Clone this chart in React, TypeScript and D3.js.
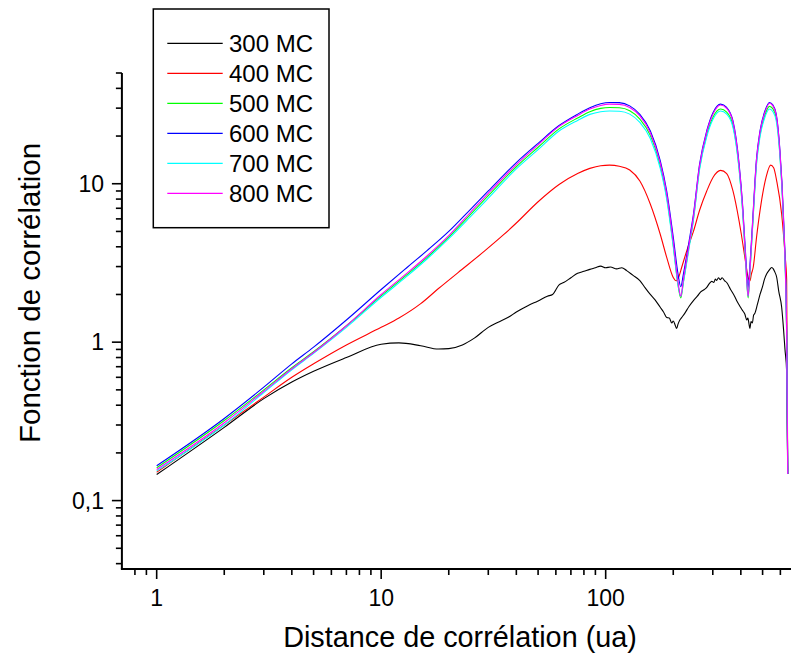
import React from "react";
import * as d3 from "d3";

// ---------- DATA ----------
const seriesNames = ["300 MC", "400 MC", "500 MC", "600 MC", "700 MC", "800 MC"];
const seriesColors = ["#000000", "#ff0000", "#00ff00", "#0000ff", "#00ffff", "#ff00ff"];

const dist300 = [1,2,3,4,5,7,10,12,15,18,20,23,26,30,33,37,40,45,50,55,58,62,65,70,75,80,85,90,95,100,105,112,118,124,132,142,150,158,166,175,181,187,192,197,200,204,207,210,214,218,225,235,246,256,265,275,282,290,297,303,308,312,318,324,330,338,346,360,375,383,395,405,417,425,430,435,439,444,450,456,462,475,487,500,510,521,535,549,558,565,578,590,608,620,629,640,647];
const val300 = [0.146,0.29,0.44,0.56,0.655,0.80,0.97,0.99,0.95,0.905,0.91,0.96,1.06,1.24,1.33,1.44,1.55,1.70,1.82,1.95,2.0,2.3,2.38,2.55,2.72,2.8,2.88,2.95,3.02,2.95,2.98,2.9,2.95,2.83,2.65,2.45,2.2,2.0,1.85,1.66,1.55,1.43,1.42,1.32,1.36,1.28,1.22,1.30,1.38,1.43,1.52,1.68,1.83,1.95,2.08,2.15,2.22,2.35,2.42,2.38,2.5,2.45,2.55,2.48,2.55,2.45,2.38,2.15,1.95,1.83,1.7,1.6,1.5,1.38,1.42,1.3,1.22,1.35,1.32,1.48,1.52,1.75,2.0,2.25,2.5,2.69,2.85,2.96,2.9,2.8,2.56,2.1,1.66,1.2,0.9,0.65,0.147];

const dist400 = [1,2,3,4,5,7,10,12,15,18,22,29,35,40,50,62,75,85,95,104,115,128,142,158,175,187,200,206,212,218,230,246,262,282,301,325,346,369,393,402,420,431,439,446,454,470,487,518,543,560,578,608,630,640,647];
const val400 = [0.151,0.30,0.45,0.60,0.73,0.96,1.24,1.42,1.75,2.18,2.75,3.78,4.75,5.65,7.7,9.9,11.6,12.5,13.0,13.1,12.9,12.2,10.4,7.45,4.8,3.43,2.56,2.44,2.6,2.96,3.8,5.0,6.8,9.0,11.0,12.15,11.6,9.0,5.8,4.8,3.2,2.56,2.44,2.7,2.96,4.6,6.76,10.97,13.1,12.6,10.4,6.43,3.5,2.5,0.147];

const distHigh = [1,2,3,4,5,7,10,13,16,20,25,30,40,50,62,75,85,95,104,115,128,142,158,175,187,200,210,216,222,235,246,262,282,301,325,346,369,393,408,420,431,440,452,470,487,512,537,555,575,596,619,640,647];
const val500 = [0.161,0.32,0.50,0.69,0.87,1.27,1.96,2.66,3.42,4.6,6.4,8.4,12.8,17.0,22.2,26.0,28.5,29.9,30.3,30.2,28.9,25.6,20.2,13.0,8.3,4.1,2.3,1.9,2.4,4.0,6.0,12.6,20.4,26.4,29.6,28.3,23.3,12.5,6.6,3.3,1.9,2.9,5.6,13.7,20.4,27.1,30.8,29.8,26.0,16.0,6.0,1.1,0.147];
const val600 = [0.166,0.33,0.52,0.73,0.93,1.38,2.15,2.95,3.78,5.0,6.9,9.0,13.6,18.0,23.3,27.5,30.2,32.0,32.6,32.5,31.0,27.4,21.6,14.0,9.0,4.6,2.7,2.24,2.7,4.3,6.4,13.3,21.6,28.2,31.8,30.3,24.9,13.3,7.1,3.6,2.22,3.2,6.0,14.5,21.6,28.8,32.6,31.5,27.5,16.9,6.4,1.2,0.147];
const val700 = [0.154,0.30,0.48,0.67,0.85,1.24,1.92,2.6,3.35,4.5,6.2,8.1,12.4,16.4,21.5,25.1,27.4,28.5,28.8,28.7,27.5,24.4,19.3,12.5,8.0,4.0,2.3,1.95,2.4,3.9,5.9,12.3,19.8,25.6,28.8,27.5,22.7,12.2,6.5,3.3,1.95,2.9,5.5,13.3,19.8,26.3,29.6,28.6,25.0,15.5,5.9,1.1,0.147];
const val800 = [0.157,0.31,0.49,0.68,0.86,1.27,2.0,2.72,3.5,4.7,6.6,8.7,13.2,17.6,23.0,27.0,29.6,31.2,31.8,31.7,30.3,26.8,21.0,13.5,8.6,4.3,2.4,1.95,2.5,4.1,6.2,13.0,21.2,27.6,31.4,29.9,24.5,13.0,6.9,3.4,1.95,3.0,5.8,14.2,21.2,28.2,32.2,31.1,27.1,16.6,6.2,1.15,0.147];

const seriesDist = [dist300, dist400, distHigh, distHigh, distHigh, distHigh];
const seriesVals = [val300, val400, val500, val600, val700, val800];

const xMajor = [1, 10, 100];
const xMajorLabels = ["1", "10", "100"];
const xMinor = [0.8,0.9,2,3,4,5,6,7,8,9,20,30,40,50,60,70,80,90,200,300,400,500,600,700];
const yMajor = [0.1, 1, 10];
const yMajorLabels = ["0,1", "1", "10"];
const yMinor = [0.04,0.05,0.06,0.07,0.08,0.09,0.2,0.3,0.4,0.5,0.6,0.7,0.8,0.9,2,3,4,5,6,7,8,9,20,30,40,50];

const xTitle = "Distance de corrélation (ua)";
const yTitle = "Fonction de corrélation";

// ---------- CHART ----------
const W = 791, H = 660;
const left = 121.9, bottom = 569, top = 73;
const FONT = "'Liberation Sans', Arial, sans-serif";

export default function App() {
  const x = d3.scaleLog().domain([0.7, 700]).range([left, left + 3 * 224.5]);
  const y = d3.scaleLog().domain([0.037, 50]).range([bottom, top]);
  const line = d3.line<[number, number]>()
    .x(d => x(d[0]))
    .y(d => y(d[1]))
    .curve(d3.curveMonotoneX);

  return (
    <div style={{ position: "absolute", left: 0, top: 0 }}>
      <svg width={W} height={H} style={{ display: "block", background: "#fff" }}>
        <rect x={0} y={0} width={W} height={H} fill="#fff" />
        {seriesVals.map((vals, i) => {
          const pts = vals.map((v, j) => [seriesDist[i][j], v] as [number, number]);
          return (
            <path key={i} d={line(pts) || ""} fill="none" stroke={seriesColors[i]} strokeWidth={1.1} />
          );
        })}
        {/* axes */}
        <line x1={left} x2={left} y1={top} y2={bottom} stroke="#000" strokeWidth={2} />
        <line x1={left - 1} x2={W + 10} y1={bottom} y2={bottom} stroke="#000" strokeWidth={2} />
        {xMinor.map(v => (
          <line key={"xm" + v} x1={x(v)} x2={x(v)} y1={bottom} y2={bottom + 6} stroke="#000" strokeWidth={1.6} />
        ))}
        {xMajor.map((v, i) => (
          <g key={"xM" + v}>
            <line x1={x(v)} x2={x(v)} y1={bottom} y2={bottom + 10} stroke="#000" strokeWidth={1.6} />
            <text x={x(v)} y={606} textAnchor="middle" fontFamily={FONT} fontSize={23}>{xMajorLabels[i]}</text>
          </g>
        ))}
        {yMinor.map(v => (
          <line key={"ym" + v} x1={left - 6} x2={left} y1={y(v)} y2={y(v)} stroke="#000" strokeWidth={1.6} />
        ))}
        {yMajor.map((v, i) => (
          <g key={"yM" + v}>
            <line x1={left - 10} x2={left} y1={y(v)} y2={y(v)} stroke="#000" strokeWidth={1.6} />
            <text x={104} y={y(v) + 8} textAnchor="end" fontFamily={FONT} fontSize={23}>{yMajorLabels[i]}</text>
          </g>
        ))}
        <text x={460} y={647} textAnchor="middle" fontFamily={FONT} fontSize={28.8}>{xTitle}</text>
        <text transform={`translate(40, 293) rotate(-90)`} textAnchor="middle" fontFamily={FONT} fontSize={29.5}>{yTitle}</text>
        {/* legend */}
        <rect x={153.3} y={9} width={175.7} height={218.7} fill="#fff" stroke="#000" strokeWidth={1.5} />
        {seriesNames.map((n, i) => (
          <g key={n}>
            <line x1={167.3} x2={222.7} y1={43.3 + 30 * i} y2={43.3 + 30 * i} stroke={seriesColors[i]} strokeWidth={1.2} />
            <text x={229} y={52 + 30 * i} fontFamily={FONT} fontSize={24}>{n}</text>
          </g>
        ))}
      </svg>
    </div>
  );
}
